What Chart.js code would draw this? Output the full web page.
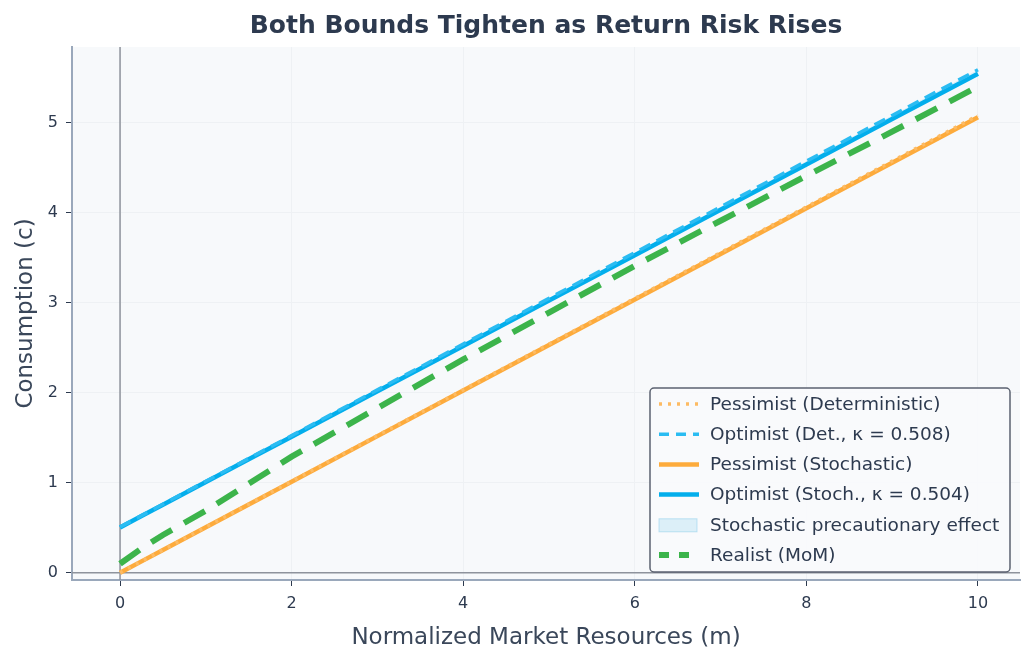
<!DOCTYPE html>
<html>
<head>
<meta charset="utf-8">
<script src="https://cdn.jsdelivr.net/npm/chart.js@4/dist/chart.umd.min.js"></script>
<style>
  html, body { margin: 0; padding: 0; background: #ffffff; }
  #wrap { width: 1035px; height: 660px; }
</style>
</head>
<body>
<div id="wrap"><canvas id="c" width="1035" height="660"></canvas></div>
<script>
// market resources grid
const m = [0, 0.25, 0.5, 1, 1.5, 2, 3, 4, 5, 6, 7, 8, 9, 10]

const pessDet   = [0, 0.127, 0.254, 0.508, 0.762, 1.016, 1.524, 2.032, 2.54, 3.048, 3.556, 4.064, 4.572, 5.08]
const optDet    = [0.508, 0.635, 0.762, 1.016, 1.27, 1.524, 2.032, 2.54, 3.048, 3.556, 4.064, 4.572, 5.08, 5.588]
const pessStoch = [0, 0.127, 0.253, 0.506, 0.759, 1.012, 1.518, 2.024, 2.53, 3.036, 3.542, 4.048, 4.554, 5.06]
const optStoch  = [0.504, 0.63, 0.756, 1.008, 1.26, 1.512, 2.016, 2.52, 3.024, 3.528, 4.032, 4.536, 5.04, 5.544]
const realist   = [0.1, 0.27, 0.42, 0.69, 0.99, 1.29, 1.83, 2.37, 2.89, 3.41, 3.91, 4.41, 4.9, 5.4]

const xTicks = [0, 2, 4, 6, 8, 10]
const yTicks = [0, 1, 2, 3, 4, 5]

const ink = '#2d3a4f'
const font = 'DejaVu Sans'

function pts(ys) { return m.map((x, i) => ({x: x, y: ys[i]})) }

const datasets = [
    {label: 'Pessimist (Deterministic)', data: pts(pessDet), borderColor: '#fdbb63', borderWidth: 3.5, borderDash: [3, 6], order: 2},
    {label: 'Optimist (Det., \u03ba = 0.508)', data: pts(optDet), borderColor: '#2bbcf2', borderWidth: 3.5, borderDash: [12, 7], order: 2},
    {label: 'Pessimist (Stochastic)', data: pts(pessStoch), borderColor: '#fdab3c', borderWidth: 4.5, order: 3},
    {label: 'Optimist (Stoch., \u03ba = 0.504)', data: pts(optStoch), borderColor: '#03aeec', borderWidth: 4.5, order: 3,
        fill: {target: 1}, backgroundColor: 'rgba(135,206,235,0.25)'},
    {label: 'Realist (MoM)', data: pts(realist), borderColor: '#3cb44b', borderWidth: 6, borderDash: [24, 14], order: 1}
]

// legend entries (the fill patch sits between the optimist and realist rows)
const legendRows = [
    {text: 'Pessimist (Deterministic)', ds: 0},
    {text: 'Optimist (Det., \u03ba = 0.508)', ds: 1},
    {text: 'Pessimist (Stochastic)', ds: 2},
    {text: 'Optimist (Stoch., \u03ba = 0.504)', ds: 3},
    {text: 'Stochastic precautionary effect', patch: true},
    {text: 'Realist (MoM)', ds: 4}
]

const decor = {
    id: 'decor',
    beforeDraw(chart) {
        const a = chart.chartArea, ctx = chart.ctx
        ctx.save()
        ctx.fillStyle = '#f7f9fb'
        ctx.fillRect(a.left, a.top, a.right - a.left, a.bottom - a.top)
        ctx.restore()
    },
    beforeDatasetsDraw(chart) {
        const a = chart.chartArea, ctx = chart.ctx
        const x0 = chart.scales.x.getPixelForValue(0)
        const y0 = chart.scales.y.getPixelForValue(0)
        ctx.save()
        ctx.strokeStyle = '#8e939c'
        ctx.lineWidth = 1.5
        ctx.beginPath()
        ctx.moveTo(x0, a.top); ctx.lineTo(x0, a.bottom)
        ctx.moveTo(a.left, y0); ctx.lineTo(a.right, y0)
        ctx.stroke()
        ctx.restore()
    },
    afterDraw(chart) {
        const a = chart.chartArea, ctx = chart.ctx
        const w = 360, rowH = 30.2, h = 184
        const bx = a.right - 10 - w, by = a.bottom - 8 - h
        ctx.save()
        ctx.fillStyle = 'rgba(248,250,252,0.92)'
        ctx.strokeStyle = '#5b6270'
        ctx.lineWidth = 1.5
        ctx.beginPath()
        ctx.roundRect(bx, by, w, h, 4)
        ctx.fill(); ctx.stroke()
        ctx.font = '18.5px "' + font + '"'
        ctx.textBaseline = 'middle'
        legendRows.forEach((r, i) => {
            const cy = by + 16 + i * rowH
            const sx = bx + 6
            if (r.patch) {
                ctx.fillStyle = 'rgba(135,206,235,0.25)'
                ctx.strokeStyle = 'rgba(135,206,235,0.5)'
                ctx.lineWidth = 1
                ctx.fillRect(sx + 3, cy - 6, 38, 13)
                ctx.strokeRect(sx + 3, cy - 6, 38, 13)
            } else {
                const d = datasets[r.ds]
                ctx.strokeStyle = d.borderColor
                ctx.lineWidth = d.borderWidth
                ctx.setLineDash(d.borderDash ? d.borderDash.map(v => Math.min(v, 10)) : [])
                ctx.beginPath()
                ctx.moveTo(sx + 3, cy); ctx.lineTo(sx + 43, cy)
                ctx.stroke()
                ctx.setLineDash([])
            }
            ctx.fillStyle = ink
            ctx.fillText(r.text, bx + 60, cy + 1)
        })
        ctx.restore()
    }
}

new Chart(document.getElementById('c').getContext('2d'), {
    type: 'line',
    data: {datasets: datasets},
    plugins: [decor],
    options: {
        responsive: false,
        animation: false,
        layout: {padding: {top: 2, right: 15, left: 0, bottom: 0}},
        elements: {point: {radius: 0}, line: {tension: 0, fill: false}},
        plugins: {
            legend: {display: false},
            tooltip: {enabled: false},
            title: {
                display: true,
                fullSize: false,
                text: 'Both Bounds Tighten as Return Risk Rises',
                color: ink,
                font: {family: font, size: 25, weight: 'bold'},
                padding: {top: 9, bottom: 6}
            }
        },
        scales: {
            x: {
                type: 'linear',
                min: -0.56, max: 10.49,
                afterBuildTicks(s) { s.ticks = xTicks.map(v => ({value: v})) },
                afterFit(s) { s.height = 80 },
                border: {color: '#9aa8bb', width: 2},
                grid: {color: '#eef1f4', tickColor: ink, tickLength: 6, drawTicks: true},
                ticks: {color: ink, font: {family: font, size: 16}, padding: 8},
                title: {display: true, text: 'Normalized Market Resources (m)', color: '#3a475a',
                    font: {family: font, size: 23}, padding: {top: 4, bottom: 8}}
            },
            y: {
                type: 'linear',
                min: -0.08, max: 5.84,
                afterBuildTicks(s) { s.ticks = yTicks.map(v => ({value: v})) },
                afterFit(s) { s.width = 72 },
                border: {color: '#9aa8bb', width: 2},
                grid: {color: '#eef1f4', tickColor: ink, tickLength: 6, drawTicks: true},
                ticks: {color: ink, font: {family: font, size: 16}, padding: 8},
                title: {display: true, text: 'Consumption (c)', color: '#3a475a',
                    font: {family: font, size: 23}, padding: {top: 12, bottom: 0}}
            }
        }
    }
})
</script>
</body>
</html>
